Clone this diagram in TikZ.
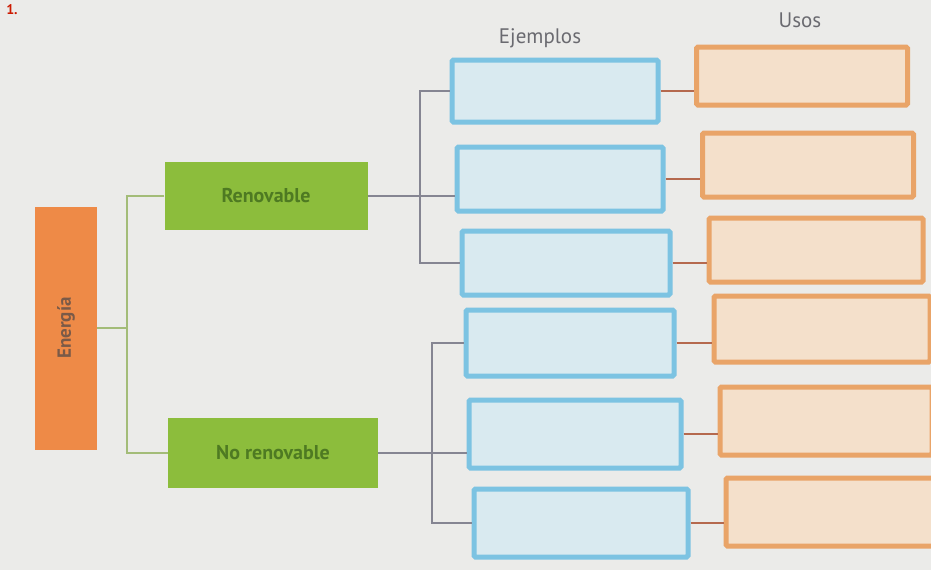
\documentclass[tikz,border=0pt]{standalone}
\usepackage{fontspec}
\setmainfont{PT Sans}
\definecolor{paper}{HTML}{EBEBE9}
\definecolor{energ}{HTML}{EE8A47}
\definecolor{energtxt}{HTML}{7A5A48}
\definecolor{grn}{HTML}{8CBD3C}
\definecolor{grntxt}{HTML}{4E7A22}
\definecolor{grnline}{HTML}{A3BC78}
\definecolor{greyline}{HTML}{858592}
\definecolor{brline}{HTML}{B5694E}
\definecolor{bluefill}{HTML}{D9EAF0}
\definecolor{blueedge}{HTML}{7CC3E2}
\definecolor{orfill}{HTML}{F4E0CB}
\definecolor{oredge}{HTML}{E9A468}
\definecolor{headtxt}{HTML}{6A6A70}
\tikzset{
  exbox/.style={draw=blueedge, fill=bluefill, line width=5pt, rounded corners=1.5pt, inner sep=0pt},
  usebox/.style={draw=oredge, fill=orfill, line width=5pt, rounded corners=1.5pt, inner sep=0pt},
  catbox/.style={fill=grn, inner sep=0pt, text=grntxt, font=\fontsize{20}{24}\selectfont\bfseries},
  gline/.style={draw=grnline, line width=1.3pt},
  kline/.style={draw=greyline, line width=1.3pt},
  bline/.style={draw=brline, line width=1.3pt},
  head/.style={text=headtxt, font=\fontsize{21}{25}\selectfont}
}
\begin{document}
\begin{tikzpicture}[x=1pt,y=-1pt]
\useasboundingbox (0,0) rectangle (931,570);
\fill[paper] (0,0) rectangle (931,570);
\clip (0,0) rectangle (931,570);

\node[text=red!75!orange!80!black, font=\fontsize{14}{16}\selectfont\bfseries] (num) at (12,10) {1.};

\node[head] (hej) at (540,38) {Ejemplos};
\node[head] (hus) at (800,20) {Usos};

% Energia
\node[fill=energ, minimum width=62pt, minimum height=243pt, inner sep=0pt] (en) at (66,328) {};
\node[rotate=90, text=energtxt, font=\fontsize{19}{22}\selectfont\bfseries] (entxt) at (en.center) {Energía};

% categories
\node[catbox, minimum width=203pt, minimum height=68pt] (ren) at (266,196) {Renovable};
\node[catbox, minimum width=210pt, minimum height=70pt] (nren) at (273,453) {No renovable};

% examples
\node[exbox, minimum width=206pt, minimum height=62pt] (b1) at (555,91) {};
\node[exbox, minimum width=206pt, minimum height=64pt] (b2) at (560,179) {};
\node[exbox, minimum width=208pt, minimum height=64pt] (b3) at (566,263) {};
\node[exbox, minimum width=208pt, minimum height=66pt] (b4) at (570,343) {};
\node[exbox, minimum width=212pt, minimum height=68pt] (b5) at (575,434) {};
\node[exbox, minimum width=214pt, minimum height=68pt] (b6) at (581,523) {};

% uses
\node[usebox, minimum width=211pt, minimum height=58pt] (u1) at (802,76) {};
\node[usebox, minimum width=211pt, minimum height=64pt] (u2) at (808,165) {};
\node[usebox, minimum width=214pt, minimum height=64pt] (u3) at (816,250) {};
\node[usebox, minimum width=216pt, minimum height=66pt] (u4) at (822,329) {};
\node[usebox, minimum width=212pt, minimum height=68pt] (u5) at (826,421) {};
\node[usebox, minimum width=208pt, minimum height=68pt] (u6) at (830,512) {};

% Energia tree
\coordinate (j0) at (127,328);
\draw[gline] (en.east |- j0) -- (j0);
\draw[gline] (ren.west) -- (ren.west -| j0) -- (nren.west -| j0) -- (nren.west);

% Renovable tree
\coordinate (t1) at (420,0);
\draw[kline] (ren.east) -- (ren.east -| b2.west);
\draw[kline] (b1.west) -- (b1.west -| t1) -- (b3.west -| t1) -- (b3.west);

% No renovable tree
\coordinate (t2) at (432,0);
\draw[kline] (nren.east) -- (nren.east -| b5.west);
\draw[kline] (b4.west) -- (b4.west -| t2) -- (b6.west -| t2) -- (b6.west);

% example to use
\foreach \i in {1,...,6}{
  \draw[bline] (b\i.east) -- (b\i.east -| u\i.west);
}
\end{tikzpicture}
\end{document}
